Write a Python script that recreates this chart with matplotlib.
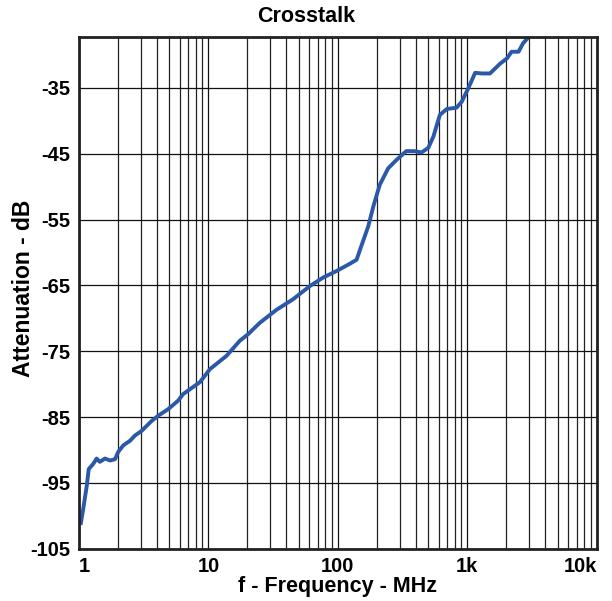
import numpy as np
import matplotlib
matplotlib.use("Agg")
import matplotlib.pyplot as plt
from matplotlib.ticker import FixedLocator, LogLocator, NullFormatter

# crosstalk curve (MHz, dB)
freq = [1.035, 1.08, 1.15, 1.19, 1.29, 1.37, 1.45, 1.59, 1.74, 1.90,
        2.01, 2.20, 2.48, 2.71, 3.05, 3.64, 4.09, 4.89, 5.84, 6.39,
        8.6, 10.3, 13.8, 17.5, 20.3, 24.9, 33.6, 45.1, 60.8, 77.1,
        98, 124, 139.6, 152, 172, 188, 211, 245, 285, 338,
        393, 443, 500, 547, 614, 694, 825, 906, 1021, 1150,
        1296, 1497, 1797, 2028, 2200, 2490, 2700, 2910]
atten = [-101.1, -98.9, -95.4, -92.9, -92.1, -91.3, -91.8, -91.3, -91.6, -91.4,
         -90.3, -89.3, -88.6, -87.8, -87.1, -85.6, -84.8, -83.8, -82.5, -81.5,
         -79.7, -77.7, -75.7, -73.4, -72.4, -70.7, -68.7, -67.1, -65.1, -63.8,
         -62.8, -61.7, -61.1, -59.0, -56.0, -53.0, -49.7, -47.2, -45.9, -44.6,
         -44.6, -44.8, -44.1, -42.4, -39.1, -38.2, -38.0, -37.1, -35.0, -32.7,
         -32.8, -32.8, -31.3, -30.5, -29.5, -29.5, -28.2, -27.5]

xticks = [1, 10, 100, 1000, 10000]
xticklabels = ['1', '10', '100', '1k', '10k']
yticks = [-105, -95, -85, -75, -65, -55, -45, -35]

plt.rcParams['font.family'] = ['Liberation Sans', 'DejaVu Sans']
plt.rcParams['axes.unicode_minus'] = False

fig = plt.figure(figsize=(6.12, 6.01), dpi=100)
ax = fig.add_axes([0.129, 0.087, 0.846, 0.851])

ax.plot(freq, atten, color='#2b59a8', linewidth=2.8, solid_joinstyle='round')

ax.set_xscale('log')
ax.set_xlim(1, 10000)
ax.set_ylim(-105, -27.3)

ax.xaxis.set_major_locator(FixedLocator(xticks))
ax.set_xticklabels(xticklabels)
ax.xaxis.set_minor_locator(LogLocator(base=10, subs=np.arange(2, 10)))
ax.xaxis.set_minor_formatter(NullFormatter())
ax.set_yticks(yticks)

ax.grid(which='major', color='#111111', linewidth=0.9)
ax.grid(which='minor', axis='x', color='#222222', linewidth=0.9)
ax.set_axisbelow(True)

ax.tick_params(which='both', length=0, labelsize=14.5)
ax.tick_params(axis='y', pad=6)
ax.tick_params(axis='x', pad=6)
for lab in ax.get_xticklabels() + ax.get_yticklabels():
    lab.set_fontweight('bold')
labs = ax.get_xticklabels()
labs[0].set_ha('left')
labs[-1].set_ha('right')

for sp in ax.spines.values():
    sp.set_linewidth(2)
    sp.set_color('#222222')

fig.text(0.5, 0.972, 'Crosstalk', fontsize=15.5, fontweight='bold',
         ha='center', va='center')
ax.set_xlabel('f - Frequency - MHz', fontsize=15.5, fontweight='bold', labelpad=0)
ax.set_ylabel('Attenuation - dB', fontsize=16.5, fontweight='bold')
ax.yaxis.set_label_coords(-0.085, 0.51)

fig.savefig('out.png', dpi=100)
